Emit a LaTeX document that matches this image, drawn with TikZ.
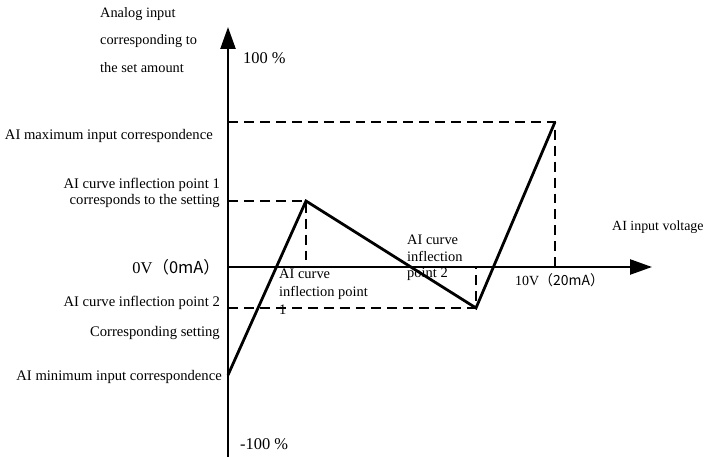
\documentclass[tikz,border=0pt]{standalone}
\usepackage{fontspec}
\setmainfont{Liberation Serif}
\newfontfamily\cjk{Noto Sans CJK SC}
\usetikzlibrary{arrows.meta}

\tikzset{
  axis/.style={line width=2.4pt, -{Triangle[length=22pt,width=15pt]}},
  curve/.style={line width=2.8pt, line join=miter},
  guide/.style={line width=2pt, dash pattern=on 10pt off 6pt},
  lbl/.style={font=\fontsize{14.7}{16}\selectfont, inner sep=0pt},
}

\begin{document}
\begin{tikzpicture}[x=1bp, y=-1bp]
  \useasboundingbox (0,0) rectangle (709,457);
  % Points of the curve
  \coordinate (O) at (228,267);
  \coordinate (ytop) at (228,27);
  \coordinate (ybot) at (228,457);
  \coordinate (xend) at (652,267);
  \coordinate (pmin) at (228,375);
  \coordinate (pone) at (306,201);
  \coordinate (ptwo) at (476,308);
  \coordinate (pmax) at (555,122);
  % Dashed guides
  \draw[guide] (O |- pmax) -- (pmax) -- (pmax |- O);
  \draw[guide] (O |- pone) -- (pone) -- (pone |- O);
  \draw[guide] (O |- ptwo) -- (ptwo) -- (ptwo |- O);
  % Axes
  \draw[axis] (ybot) -- (ytop);
  \draw[axis] (O) -- (xend);
  % Curve
  \draw[curve] (pmin) -- (pone) -- (ptwo) -- (pmax);
  % Axis texts
  \node[lbl, font=\fontsize{14.4}{28}\selectfont, align=left, anchor=west] (ytitle) at (100,40)
    {Analog input\\corresponding to\\the set amount};
  \node[lbl, font=\fontsize{16.5}{18}\selectfont, anchor=west] (yhi) at (243,58) {100 \%};
  \node[lbl, font=\fontsize{16.5}{18}\selectfont, anchor=west] (ylo) at (240,444) {-100 \%};
  \node[lbl, font=\fontsize{14}{16}\selectfont, anchor=west] (xtitle) at (612,227) {AI input voltage};
  \node[lbl, font=\fontsize{14}{16}\selectfont, anchor=west] (xmax) at (515,280)
    {10V\cjk{（}20mA\cjk{）}};
  % Left texts
  \node[lbl, anchor=east] (lmax) at (213,136) {AI maximum input correspondence};
  \node[lbl, align=right, anchor=east] (lone) at (220,193)
    {AI curve inflection point 1\\corresponds to the setting};
  \node[lbl, font=\fontsize{16.5}{18}\selectfont, anchor=east] (lzero) at (220,267)
    {0V\cjk{（}0mA\cjk{）}};
  \node[lbl, anchor=east] (ltwo) at (220,303) {AI curve inflection point 2};
  \node[lbl, anchor=east] (lset) at (220,333) {Corresponding setting};
  \node[lbl, anchor=east] (lmin) at (222,377) {AI minimum input correspondence};
  % Texts along the x axis
  \node[lbl, font=\fontsize{14.5}{18}\selectfont, align=left, anchor=west] (ione) at (279,292)
    {AI curve\\inflection point\\1};
  \node[lbl, font=\fontsize{14.5}{16.5}\selectfont, align=left, anchor=west] (itwo) at (407,258)
    {AI curve\\inflection\\point 2};
\end{tikzpicture}
\end{document}
